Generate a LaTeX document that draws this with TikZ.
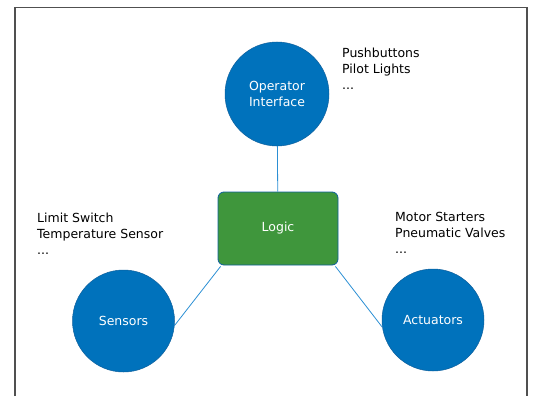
\documentclass[tikz,border=0pt]{standalone}
\usepackage{fontspec}
\setmainfont{DejaVu Sans}
\usetikzlibrary{positioning}
\definecolor{plcblue}{HTML}{0072BC}
\definecolor{plcblueline}{HTML}{0E5F9C}
\definecolor{plcgreen}{HTML}{3F963C}
\definecolor{plcwire}{HTML}{2B8FD4}
\definecolor{plcframe}{HTML}{505050}
\begin{document}
\begin{tikzpicture}[x=1pt,y=-1pt,
  main node/.style={circle,draw=plcblueline,fill=plcblue,line width=0.5pt,
  text=white,align=center,inner sep=0pt,minimum size=102pt},
  logic box/.style={rectangle,rounded corners=6pt,draw=plcblueline,fill=plcgreen,
  line width=0.8pt,text=white,minimum width=120pt,minimum height=73pt},
  info/.style={anchor=north west,align=left,inner sep=0pt},
  wire/.style={draw=plcwire,line width=0.8pt},
  every node/.style={font=\fontsize{12.5}{16}\selectfont}]
  \useasboundingbox (0,0) rectangle (535,396);
  \draw[plcframe,line width=1.2pt] (15,396) -- (15,7.5) -- (527,7.5) -- (527,396);

  \node[main node,minimum size=104pt] (oper) at (277,94) {Operator\\Interface};
  \node[logic box] (logic) at (278,228.5) {Logic};
  \node[main node] (sens) at (123.5,321) {Sensors};
  \node[main node] (act) at (433,320) {Actuators};

  \node[info] (operinfo) at (342,47.5) {Pushbuttons\\Pilot Lights\\...};
  \node[info] (sensinfo) at (37,212.5) {Limit Switch\\Temperature Sensor\\...};
  \node[info] (actinfo) at (395,212.5) {Motor Starters\\Pneumatic Valves\\...};

  \path[wire]
     (oper) edge (logic)
     ([shift={(3pt,-1pt)}]logic.south west) edge (sens.-5)
     ([shift={(-3pt,-1pt)}]logic.south east) edge (act.-172);
\end{tikzpicture}
\end{document}
